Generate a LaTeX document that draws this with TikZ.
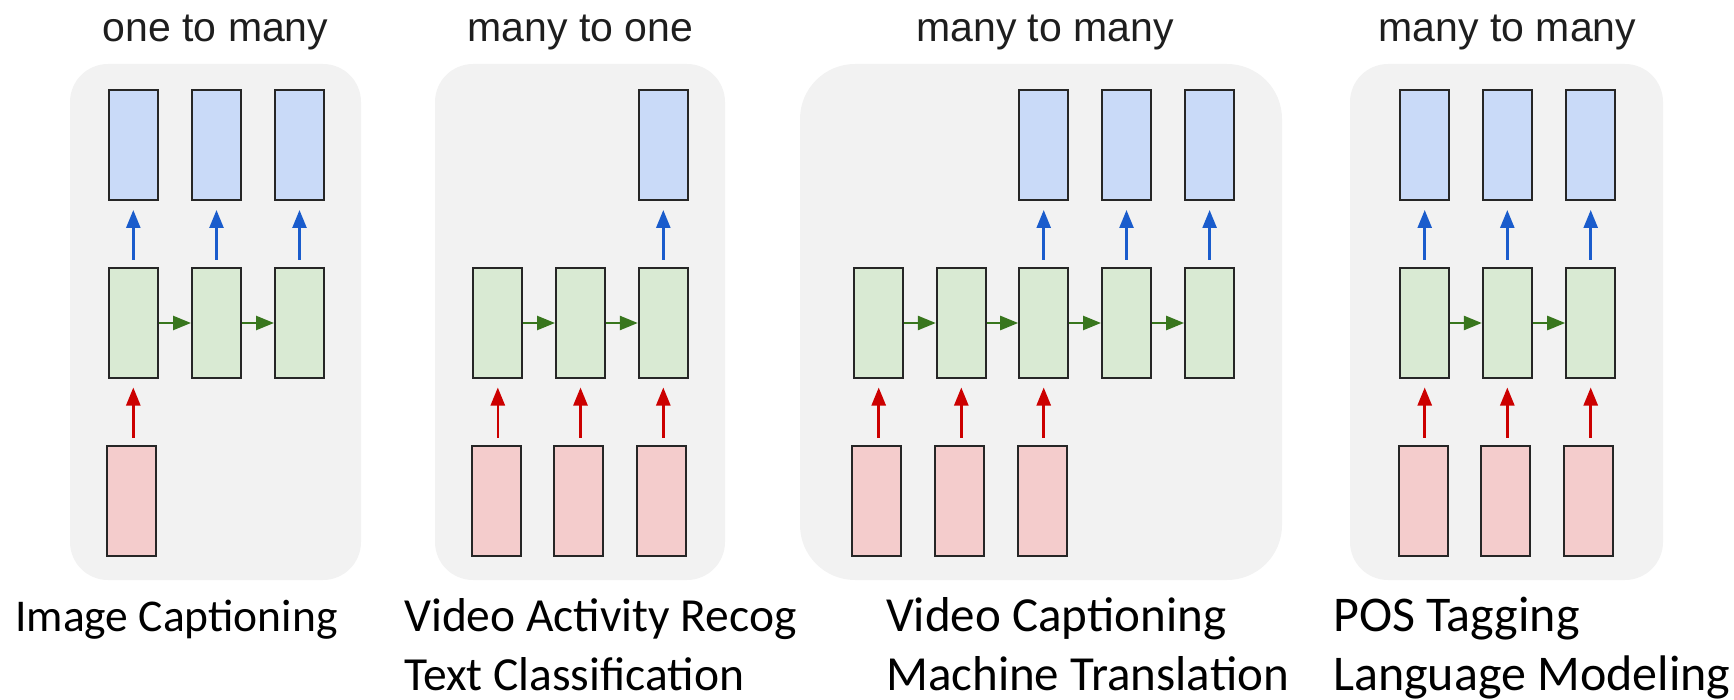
\documentclass[tikz,border=0pt]{standalone}
\usepackage{fontspec}
\setmainfont{Carlito}
\newfontfamily\arialfont{Liberation Sans}
\usetikzlibrary{arrows.meta}
\definecolor{outfill}{HTML}{C9DAF8}
\definecolor{hidfill}{HTML}{D9EAD3}
\definecolor{infill}{HTML}{F4CCCC}
\definecolor{panelgray}{HTML}{F2F2F2}
\definecolor{boxline}{HTML}{262626}
\definecolor{outline}{HTML}{1A5CCC}
\definecolor{recline}{HTML}{38761D}
\definecolor{inline}{HTML}{CC0000}
\definecolor{titlegray}{HTML}{1E1E1E}
\tikzset{
	panel/.style={fill=panelgray},
	title/.style={anchor=base, inner sep=0pt, text=titlegray, font=\arialfont\fontsize{41}{49}\selectfont},
	caption/.style={anchor=base west, inner sep=0pt, align=left, font=\fontsize{#1}{59}\selectfont},
	cell/.style={draw=boxline, line width=2pt, minimum width=49pt, minimum height=110pt, inner sep=0pt},
	outcell/.style={cell, fill=outfill},
	hidcell/.style={cell, fill=hidfill},
	incell/.style={cell, fill=infill},
	tip/.style={-{Triangle[length=18pt,width=14pt]}, line width=2.5pt},
	outarrow/.style={tip, draw=outline, shorten <=7pt, shorten >=8.5pt},
	inarrow/.style={tip, draw=inline, shorten <=7pt, shorten >=8.5pt},
	recarrow/.style={tip, draw=recline}
}
\begin{document}
\begin{tikzpicture}[x=1pt,y=-1pt]
	\useasboundingbox (0,0) rectangle (1734,700);
	\fill[panel, rounded corners=38pt] (70,64) rectangle (361,580);
	\fill[panel, rounded corners=38pt] (435,64) rectangle (725,580);
	\fill[panel, rounded corners=55pt] (800,64) rectangle (1282,580);
	\fill[panel, rounded corners=38pt] (1350,64) rectangle (1663,580);

	\node[title] (t1) at (215.5,42) {one to many};
	\node[title] (t2) at (580.5,42) {many to one};
	\node[title] (t3) at (1045,42) {many to many};
	\node[title] (t4) at (1507.5,42) {many to many};

	\node[outcell] (o11) at (133.3,145.5) {};
	\node[outcell] (o12) at (216.5,145.5) {};
	\node[outcell] (o13) at (299.5,145.5) {};
	\node[hidcell] (h11) at (133.3,323) {};
	\node[hidcell] (h12) at (216.5,323) {};
	\node[hidcell] (h13) at (299.5,323) {};
	\node[incell] (x11) at (131.5,500.5) {};
	\draw[outarrow] (h11) -- (o11);
	\draw[outarrow] (h12) -- (o12);
	\draw[outarrow] (h13) -- (o13);
	\draw[recarrow] (h11) -- (h12);
	\draw[recarrow] (h12) -- (h13);
	\draw[inarrow] (x11.north -| h11) -- (h11);

	\node[outcell] (o23) at (663.3,145.5) {};
	\node[hidcell] (h21) at (497.8,323) {};
	\node[hidcell] (h22) at (580.5,323) {};
	\node[hidcell] (h23) at (663.3,323) {};
	\node[incell] (x21) at (496,500.5) {};
	\node[incell] (x22) at (578.7,500.5) {};
	\node[incell] (x23) at (661.5,500.5) {};
	\draw[outarrow] (h23) -- (o23);
	\draw[recarrow] (h21) -- (h22);
	\draw[recarrow] (h22) -- (h23);
	\draw[inarrow] (x21.north -| h21) -- (h21);
	\draw[inarrow] (x22.north -| h22) -- (h22);
	\draw[inarrow] (x23.north -| h23) -- (h23);

	\node[outcell] (o33) at (1043.7,145.5) {};
	\node[outcell] (o34) at (1126.5,145.5) {};
	\node[outcell] (o35) at (1209.6,145.5) {};
	\node[hidcell] (h31) at (878.7,323) {};
	\node[hidcell] (h32) at (961.3,323) {};
	\node[hidcell] (h33) at (1043.7,323) {};
	\node[hidcell] (h34) at (1126.5,323) {};
	\node[hidcell] (h35) at (1209.6,323) {};
	\node[incell] (x31) at (876.5,500.5) {};
	\node[incell] (x32) at (959.5,500.5) {};
	\node[incell] (x33) at (1042,500.5) {};
	\draw[outarrow] (h33) -- (o33);
	\draw[outarrow] (h34) -- (o34);
	\draw[outarrow] (h35) -- (o35);
	\draw[recarrow] (h31) -- (h32);
	\draw[recarrow] (h32) -- (h33);
	\draw[recarrow] (h33) -- (h34);
	\draw[recarrow] (h34) -- (h35);
	\draw[inarrow] (x31.north -| h31) -- (h31);
	\draw[inarrow] (x32.north -| h32) -- (h32);
	\draw[inarrow] (x33.north -| h33) -- (h33);

	\node[outcell] (o41) at (1424.7,145.5) {};
	\node[outcell] (o42) at (1507.3,145.5) {};
	\node[outcell] (o43) at (1590.7,145.5) {};
	\node[hidcell] (h41) at (1424.7,323) {};
	\node[hidcell] (h42) at (1507.3,323) {};
	\node[hidcell] (h43) at (1590.7,323) {};
	\node[incell] (x41) at (1423,500.5) {};
	\node[incell] (x42) at (1505.5,500.5) {};
	\node[incell] (x43) at (1588.7,500.5) {};
	\draw[outarrow] (h41) -- (o41);
	\draw[outarrow] (h42) -- (o42);
	\draw[outarrow] (h43) -- (o43);
	\draw[recarrow] (h41) -- (h42);
	\draw[recarrow] (h42) -- (h43);
	\draw[inarrow] (x41.north -| h41) -- (h41);
	\draw[inarrow] (x42.north -| h42) -- (h42);
	\draw[inarrow] (x43.north -| h43) -- (h43);

	\node[caption=45.5] (c1) at (15,631.7) {Image Captioning};
	\node[caption=47.5] (c2) at (404,690.7) {Video Activity Recog\\Text Classification};
	\node[caption=49] (c3) at (886,690.7) {Video Captioning\\Machine Translation};
	\node[caption=50] (c4) at (1333,690.7) {POS Tagging\\Language Modeling};
\end{tikzpicture}
\end{document}
